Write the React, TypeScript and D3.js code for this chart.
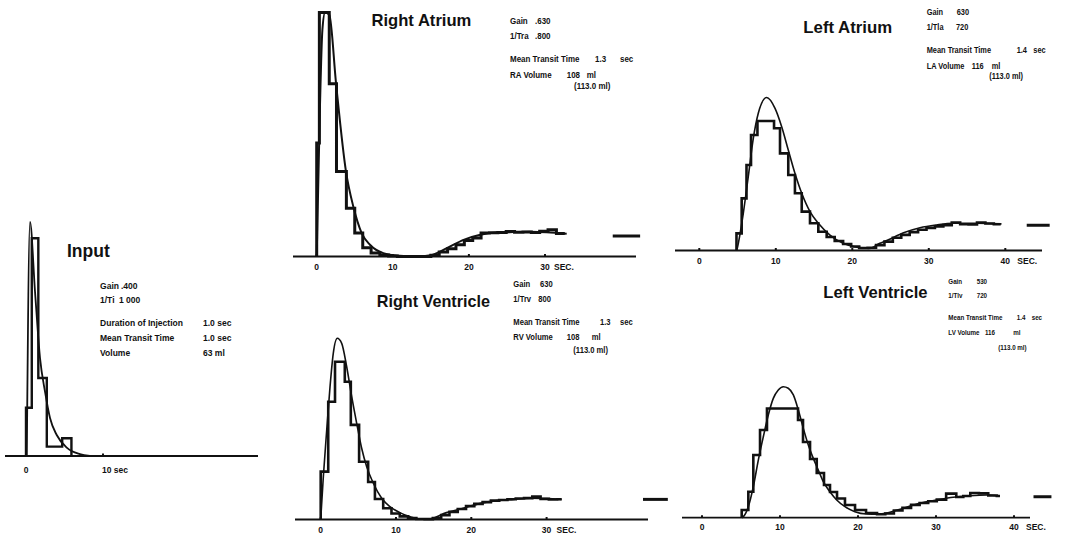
import React from "react";
import * as d3 from "d3";

// ---------------- DATA ----------------
// Input
const inputBinEdges = [0, 0.75, 1.6, 2.7, 4.7, 5.9];
const inputBinValues = [20.1, 90.7, 32.5, 3.9, 7.4];
const inputCurveT = [0.1, 0.52, 1.17, 1.82, 2.47, 3.12, 3.99, 5.29, 7.0, 8.3];
const inputCurveV = [0, 97.5, 68.5, 40.8, 26.8, 15.8, 8.75, 3.5, 0.8, 0];
const inputTicks = [0, 10];
const inputTickLabels = ["0", "10 sec"];

// Right Atrium
const raBinEdges = [0, 0.35, 1.65, 2.6, 3.9, 5.0, 6.05, 7.15, 8.3, 9.45, 10.6, 11.7, 12.8, 13.9, 15.0, 16.1, 17.2, 18.3, 19.4, 20.5, 21.6, 22.7, 23.8, 24.9, 26.0, 27.1, 28.2, 29.3, 30.4, 31.5, 32.6];
const raBinValues = [46.5, 100, 70.8, 34.8, 19.8, 9.6, 3.6, 1.4, 0.6, 0.2, 0, 0, 0, 0, 0.5, 1.8, 3.2, 4.8, 6.6, 7.6, 9.6, 9.7, 9.8, 10.2, 9.9, 10.0, 9.8, 10.3, 11.0, 9.4];
const raCurveT = [0, 0.4, 0.75, 1.1, 1.66, 2.54, 3.85, 4.81, 5.91, 7.0, 8.75, 10.9, 13.0, 15.0, 17.1, 19.3, 21.5, 23.65, 25.8, 28.0, 30.2, 32.85];
const raCurveV = [0, 58, 93, 100, 99, 71, 34.8, 20.5, 9.6, 4.8, 1.4, 0.3, 0, 0.5, 3.4, 6.8, 8.9, 9.8, 10.0, 10.1, 9.9, 9.3];
const raMarker = { t0: 38.9, t1: 42.5, v: 8.4 };

// Left Atrium
const laBinEdges = [4.86, 5.54, 6.17, 6.76, 7.6, 9.77, 10.55, 11.63, 12.5, 13.39, 14.47, 15.56, 16.65, 17.7, 18.8, 19.85, 20.9, 22.0, 23.1, 24.2, 25.3, 26.4, 27.5, 28.6, 29.7, 30.8, 31.9, 33.0, 34.1, 35.2, 36.3, 37.4, 38.5, 39.4];
const laBinValues = [11.2, 34.1, 55.9, 75.5, 84.6, 79.9, 63.5, 49.3, 37.4, 25.4, 17.8, 12.3, 8.8, 6.2, 4.2, 2.6, 1.6, 1.8, 3.5, 5.8, 8.3, 10.2, 12.0, 13.6, 14.8, 15.8, 16.6, 18.2, 17.2, 17.0, 18.3, 17.6, 17.2];
const laCurveT = [4.9, 5.1, 5.75, 6.4, 7.06, 7.71, 8.81, 9.9, 10.77, 11.63, 12.5, 13.39, 14.47, 15.56, 17.08, 18.8, 20.6, 22.3, 23.6, 24.5, 26.7, 28.85, 31.0, 33.2, 36.3, 39.5];
const laCurveV = [0, 4.7, 24.3, 48.2, 73.3, 89.7, 100, 92.9, 80.9, 65.7, 50.5, 37.4, 25.4, 17.8, 10.1, 4.7, 2.1, 1.4, 4.7, 6.5, 11.6, 14.9, 16.7, 17.8, 17.8, 17.4];
const laMarker = { t0: 42.8, t1: 45.8, v: 16.5 };

// Right Ventricle
const rvBinEdges = [0, 1.0, 1.9, 3.2, 4.0, 5.1, 6.3, 7.2, 8.3, 9.4, 10.5, 11.6, 12.7, 13.8, 14.9, 16.0, 17.1, 18.2, 19.3, 20.4, 21.5, 22.6, 23.7, 24.8, 25.9, 27.0, 28.1, 29.2, 30.3, 31.4, 32.0];
const rvBinValues = [26.4, 65, 87.1, 76, 52.2, 31.9, 20.7, 11.3, 6.2, 3.3, 1.7, 0.8, 0.3, 0.2, 0.8, 2.4, 4.2, 5.8, 7.4, 8.6, 9.6, 10.4, 10.8, 11.2, 11.6, 11.8, 12.6, 11.4, 11.0, 11.2];
const rvCurveT = [0, 0.35, 0.8, 1.24, 1.67, 2.2, 2.79, 3.45, 4.12, 4.78, 5.44, 6.11, 6.99, 8.1, 9.2, 10.5, 11.9, 13.2, 14.3, 16.7, 18.9, 21.2, 23.4, 25.6, 27.8, 30.0, 32.0];
const rvCurveV = [0, 23.6, 49.4, 73.3, 91.7, 100, 97.2, 84.3, 67.8, 53.1, 39.3, 29.1, 20, 11.7, 7.1, 3.8, 1.5, 0.3, 0.2, 3.8, 6.2, 8.9, 10.4, 11.1, 11.7, 11.5, 11.1];
const rvMarker = { t0: 42.8, t1: 46.1, v: 11.1 };

// Left Ventricle
const lvBinEdges = [5.09, 5.94, 6.58, 7.44, 8.33, 12.31, 12.95, 13.85, 14.71, 15.64, 16.41, 17.31, 18.33, 19.62, 21.03, 22.44, 23.5, 24.6, 25.7, 26.8, 27.9, 29.0, 30.1, 31.3, 32.6, 33.5, 34.4, 35.5, 36.7, 37.8, 38.2];
const lvBinValues = [5.9, 19.8, 47.9, 66.9, 83.4, 74.6, 57.8, 44.8, 34.1, 25.0, 19.6, 14.7, 9.7, 5.9, 3.6, 2.6, 3.2, 5.5, 7.5, 9.8, 11.2, 12.6, 13.8, 18.4, 15.8, 16.6, 18.8, 18.6, 17.0, 16.6];
const lvCurveT = [5.1, 5.3, 5.94, 6.58, 7.22, 7.86, 8.5, 9.14, 9.78, 10.42, 11.06, 11.71, 12.35, 12.99, 13.63, 14.27, 14.91, 15.55, 16.4, 17.27, 18.33, 19.6, 21.1, 22.4, 23.7, 25.8, 27.9, 30.1, 32.2, 34.4, 36.5, 38.2];
const lvCurveV = [0, 0.8, 8.4, 23.7, 44, 61.8, 78.4, 91.1, 97.5, 100, 98.8, 93.7, 82.2, 68.2, 55.5, 45.3, 36.4, 27.5, 19.8, 13.5, 8.4, 4.6, 2.8, 2.6, 3.6, 7.2, 11, 13.5, 15.6, 16.8, 17.3, 16.6];
const lvMarker = { t0: 42.5, t1: 44.8, v: 16 };

const ticks30 = [0, 10, 20, 30];
const ticks40 = [0, 10, 20, 30, 40];

// ---------------- LAYOUT ----------------
type Info = { text: string; x: number; y: number };
type Panel = {
  key: string;
  x0: number; pps: number; base: number; top: number;
  axisFrom: number; axisTo: number;
  ticks: number[]; tickLabels: string[]; labelDy: number; secDx: number | null;
  edges: number[]; values: number[]; closeEnd: boolean;
  ct: number[]; cv: number[];
  marker: { t0: number; t1: number; v: number } | null;
  histW: number; curveW: number;
  title: string; titleX: number; titleY: number; titleSize: number;
  infoSize: number; infoSx: number; info: Info[];
};

const panels: Panel[] = [
  {
    key: "input", x0: 26, pps: 7.7, base: 456, top: 216, axisFrom: 5, axisTo: 258,
    ticks: inputTicks, tickLabels: inputTickLabels, labelDy: 17, secDx: null,
    edges: inputBinEdges, values: inputBinValues, closeEnd: true,
    ct: inputCurveT, cv: inputCurveV, marker: null, histW: 2.4, curveW: 1.8,
    title: "Input", titleX: 67, titleY: 257, titleSize: 17.5, infoSize: 9, infoSx: 0.95,
    info: [
      { text: "Gain", x: 100, y: 289 }, { text: ".400", x: 121, y: 289 },
      { text: "1/Ti", x: 100, y: 303 }, { text: "1 000", x: 119, y: 303 },
      { text: "Duration of Injection", x: 100, y: 326 }, { text: "1.0 sec", x: 203, y: 326 },
      { text: "Mean Transit Time", x: 100, y: 341 }, { text: "1.0 sec", x: 203, y: 341 },
      { text: "Volume", x: 100, y: 355.5 }, { text: "63 ml", x: 203, y: 355.5 },
    ],
  },
  {
    key: "ra", x0: 316.7, pps: 7.61, base: 256.5, top: 12.5, axisFrom: 293, axisTo: 636,
    ticks: ticks30, tickLabels: ["0", "10", "20", "30"], labelDy: 13.5, secDx: 9,
    edges: raBinEdges, values: raBinValues, closeEnd: false,
    ct: raCurveT, cv: raCurveV, marker: raMarker, histW: 3, curveW: 2,
    title: "Right Atrium", titleX: 371.5, titleY: 26, titleSize: 16.6, infoSize: 8.4, infoSx: 0.95,
    info: [
      { text: "Gain", x: 510, y: 23.7 }, { text: ".630", x: 535, y: 23.7 },
      { text: "1/Tra", x: 510, y: 39 }, { text: ".800", x: 535, y: 39 },
      { text: "Mean Transit Time", x: 510, y: 62.3 }, { text: "1.3", x: 595, y: 62.3 }, { text: "sec", x: 620, y: 62.3 },
      { text: "RA Volume", x: 510, y: 78 }, { text: "108", x: 566.7, y: 78 }, { text: "ml", x: 586.7, y: 78 },
      { text: "(113.0 ml)", x: 574, y: 88.5 },
    ],
  },
  {
    key: "la", x0: 699.3, pps: 7.65, base: 250.5, top: 97.5, axisFrom: 675, axisTo: 1042,
    ticks: ticks40, tickLabels: ["0", "10", "20", "30", "40"], labelDy: 13, secDx: 12,
    edges: laBinEdges, values: laBinValues, closeEnd: false,
    ct: laCurveT, cv: laCurveV, marker: laMarker, histW: 2.6, curveW: 1.6,
    title: "Left Atrium", titleX: 803.3, titleY: 33.3, titleSize: 16.8, infoSize: 8.4, infoSx: 0.88,
    info: [
      { text: "Gain", x: 926.7, y: 14.7 }, { text: "630", x: 956.7, y: 14.7 },
      { text: "1/Tla", x: 926.7, y: 29.7 }, { text: "720", x: 956, y: 29.7 },
      { text: "Mean Transit Time", x: 926.7, y: 53 }, { text: "1.4", x: 1016.7, y: 53 }, { text: "sec", x: 1033.3, y: 53 },
      { text: "LA Volume", x: 926.7, y: 69 }, { text: "116", x: 971.7, y: 69 }, { text: "ml", x: 991.7, y: 69 },
      { text: "(113.0 ml)", x: 989.3, y: 79 },
    ],
  },
  {
    key: "rv", x0: 320.7, pps: 7.53, base: 519.5, top: 338.3, axisFrom: 295, axisTo: 648,
    ticks: ticks30, tickLabels: ["0", "10", "20", "30"], labelDy: 13.5, secDx: 10,
    edges: rvBinEdges, values: rvBinValues, closeEnd: false,
    ct: rvCurveT, cv: rvCurveV, marker: rvMarker, histW: 2.6, curveW: 1.6,
    title: "Right Ventricle", titleX: 376.7, titleY: 306.7, titleSize: 16.2, infoSize: 8.2, infoSx: 0.93,
    info: [
      { text: "Gain", x: 513.3, y: 287 }, { text: "630", x: 540, y: 287 },
      { text: "1/Trv", x: 513.3, y: 302.3 }, { text: "800", x: 538.3, y: 302.3 },
      { text: "Mean Transit Time", x: 513.3, y: 324.7 }, { text: "1.3", x: 600, y: 324.7 }, { text: "sec", x: 620, y: 324.7 },
      { text: "RV Volume", x: 513.3, y: 339.7 }, { text: "108", x: 566.7, y: 339.7 }, { text: "ml", x: 591.7, y: 339.7 },
      { text: "(113.0 ml)", x: 573.3, y: 353 },
    ],
  },
  {
    key: "lv", x0: 702, pps: 7.8, base: 517.7, top: 386.7, axisFrom: 682, axisTo: 1030,
    ticks: ticks40, tickLabels: ["0", "10", "20", "30", "40"], labelDy: 12.5, secDx: 12,
    edges: lvBinEdges, values: lvBinValues, closeEnd: false,
    ct: lvCurveT, cv: lvCurveV, marker: lvMarker, histW: 2.6, curveW: 1.6,
    title: "Left Ventricle", titleX: 823.3, titleY: 298.3, titleSize: 16.6, infoSize: 8, infoSx: 0.78,
    info: [
      { text: "Gain", x: 948.3, y: 283.5 }, { text: "530", x: 976.7, y: 283.5 },
      { text: "1/Tlv", x: 948.3, y: 297.8 }, { text: "720", x: 976.7, y: 297.8 },
      { text: "Mean Transit Time", x: 948.3, y: 320 }, { text: "1.4", x: 1016.7, y: 320 }, { text: "sec", x: 1031.7, y: 320 },
      { text: "LV Volume", x: 948.3, y: 335 }, { text: "116", x: 985, y: 335 }, { text: "ml", x: 1013.3, y: 335 },
      { text: "(113.0 ml)", x: 998.3, y: 349.5 },
    ],
  },
];

const INK = "#111";
const FONT = "'Liberation Sans', Arial, Helvetica, sans-serif";

function histPoints(edges: number[], values: number[], closeEnd: boolean): [number, number][] {
  const pts: [number, number][] = [[edges[0], 0]];
  values.forEach((v, i) => {
    pts.push([edges[i], v]);
    pts.push([edges[i + 1], v]);
  });
  if (closeEnd) pts.push([edges[edges.length - 1], 0]);
  return pts;
}

function PanelView({ p }: { p: Panel }) {
  const x = d3.scaleLinear().domain([0, 10]).range([p.x0, p.x0 + 10 * p.pps]);
  const y = d3.scaleLinear().domain([0, 100]).range([p.base, p.top]);
  const lin = d3.line<[number, number]>().x((d) => x(d[0])).y((d) => y(d[1]));
  const smooth = d3
    .line<[number, number]>()
    .x((d) => x(d[0]))
    .y((d) => y(d[1]))
    .curve(d3.curveMonotoneX);
  const hist = lin(histPoints(p.edges, p.values, p.closeEnd)) || "";
  const curve = smooth(p.ct.map((t, i) => [t, p.cv[i]] as [number, number])) || "";
  const lastTick = p.ticks[p.ticks.length - 1];
  return (
    <g>
      <line x1={p.axisFrom} x2={p.axisTo} y1={p.base} y2={p.base} stroke={INK} strokeWidth={1.8} />
      {p.ticks.map((t) => (
        <line key={"tk" + t} x1={x(t)} x2={x(t)} y1={p.base} y2={p.base - 2.5} stroke={INK} strokeWidth={2} />
      ))}
      {p.ticks.map((t, i) => (
        <text
          key={"tl" + t}
          x={p.key === "input" && i > 0 ? x(t) - 1 : x(t)}
          y={p.base + p.labelDy}
          fontSize={8.5}
          fontWeight="bold"
          fontFamily={FONT}
          textAnchor={p.key === "input" && i > 0 ? "start" : "middle"}
          fill={INK}
        >
          {p.tickLabels[i]}
        </text>
      ))}
      {p.secDx !== null && (
        <text x={x(lastTick) + p.secDx} y={p.base + p.labelDy} fontSize={8.5} fontWeight="bold" fontFamily={FONT} fill={INK}>
          SEC.
        </text>
      )}
      <path d={hist} fill="none" stroke={INK} strokeWidth={p.histW} strokeLinejoin="miter" />
      <path d={curve} fill="none" stroke={INK} strokeWidth={p.curveW} strokeLinejoin="round" />
      {p.marker && (
        <line
          x1={x(p.marker.t0)}
          x2={x(p.marker.t1)}
          y1={y(p.marker.v)}
          y2={y(p.marker.v)}
          stroke={INK}
          strokeWidth={3}
        />
      )}
      <text x={p.titleX} y={p.titleY} fontSize={p.titleSize} fontWeight="bold" fontFamily={FONT} fill={INK}>
        {p.title}
      </text>
      {p.info.map((it, i) => (
        <text
          key={"in" + i}
          transform={`translate(${it.x},${it.y}) scale(${p.infoSx},1)`}
          fontSize={p.infoSize}
          fontWeight="bold"
          fontFamily={FONT}
          fill={INK}
        >
          {it.text}
        </text>
      ))}
    </g>
  );
}

export default function App() {
  return (
    <svg
      width={1069}
      height={538}
      viewBox="0 0 1069 538"
      style={{ position: "absolute", left: 0, top: 0, background: "#fff" }}
    >
      <rect x={0} y={0} width={1069} height={538} fill="#fff" />
      {panels.map((p) => (
        <PanelView key={p.key} p={p} />
      ))}
    </svg>
  );
}
